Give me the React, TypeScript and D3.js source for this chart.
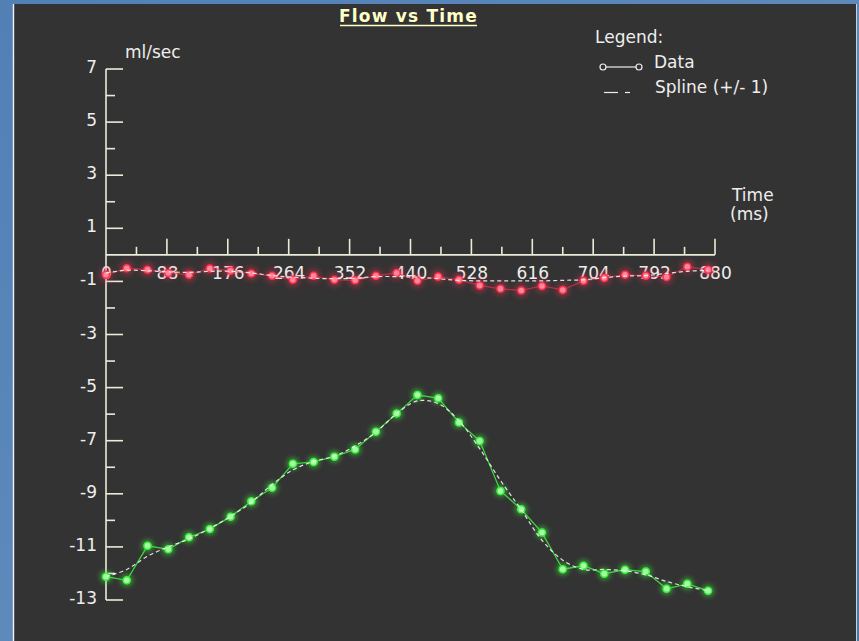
import React from "react";
import * as d3 from "d3";

const timeMs = [0, 30, 60, 90, 120, 150, 180, 210, 240, 270, 300, 330, 360, 390, 420, 450, 480, 510, 540, 570, 600, 630, 660, 690, 720, 750, 780, 810, 840, 870];

const greenData = [-12.12, -12.26, -10.96, -11.09, -10.64, -10.33, -9.86, -9.28, -8.77, -7.87, -7.8, -7.6, -7.33, -6.66, -5.98, -5.28, -5.4, -6.31, -7.01, -8.89, -9.58, -10.46, -11.84, -11.71, -12.01, -11.86, -11.93, -12.58, -12.39, -12.65];
const greenSpline = [-12.12, -11.85, -11.35, -11.0, -10.7, -10.3, -9.85, -9.32, -8.65, -8.1, -7.78, -7.58, -7.2, -6.68, -5.98, -5.5, -5.6, -6.25, -7.3, -8.5, -9.6, -10.75, -11.5, -11.85, -11.85, -11.9, -12.05, -12.3, -12.5, -12.65];

const redData = [-0.75, -0.5, -0.56, -0.68, -0.75, -0.51, -0.6, -0.7, -0.79, -0.94, -0.79, -0.94, -0.96, -0.79, -0.68, -0.98, -0.82, -0.94, -1.15, -1.28, -1.34, -1.17, -1.32, -0.98, -0.87, -0.75, -0.79, -0.83, -0.45, -0.56];
const redSpline = [-0.68, -0.58, -0.6, -0.64, -0.66, -0.62, -0.62, -0.68, -0.78, -0.84, -0.88, -0.9, -0.88, -0.82, -0.82, -0.84, -0.9, -0.96, -0.98, -0.98, -0.98, -0.98, -0.96, -0.94, -0.86, -0.8, -0.78, -0.7, -0.62, -0.58];

const yMajorTicks = [7, 5, 3, 1, -1, -3, -5, -7, -9, -11, -13];
const yMinorTicks = [6, 4, 2, -2, -4, -6, -8, -10, -12];
const xMajorTicks = [0, 88, 176, 264, 352, 440, 528, 616, 704, 792, 880];
const xMinorTicks = [44, 132, 220, 308, 396, 484, 572, 660, 748, 836];

const W = 859;
const H = 641;
const FONT = "'DejaVu Sans', sans-serif";
const AXIS = "#ecebd8";
const TEXT = "#eeeeee";

export default function App() {
  const x = d3.scaleLinear().domain([0, 880]).range([106, 715]);
  const y = d3.scaleLinear().domain([-13, 7]).range([600, 69]);

  const dataLine = d3
    .line<number>()
    .x((_, i) => x(timeMs[i]))
    .y((d) => y(d));
  const splineLine = d3
    .line<number>()
    .x((_, i) => x(timeMs[i]))
    .y((d) => y(d))
    .curve(d3.curveCatmullRom.alpha(0.5));

  const series = [
    { data: greenData, spline: greenSpline, color: "#3cf03c", fill: "#aaffaa", glow: "url(#glowG)", lineOp: 0.85 },
    { data: redData, spline: redSpline, color: "#ff3050", fill: "#ff8899", glow: "url(#glowR)", lineOp: 0.6 },
  ];

  return (
    <svg
      width={W}
      height={H}
      style={{ position: "absolute", left: 0, top: 0, display: "block" }}
      fontFamily={FONT}
    >
      <defs>
        <filter id="glowG" x="-100%" y="-100%" width="300%" height="300%">
          <feGaussianBlur stdDeviation="2.5" />
        </filter>
        <filter id="glowR" x="-100%" y="-100%" width="300%" height="300%">
          <feGaussianBlur stdDeviation="3" />
        </filter>
        <linearGradient id="bg" x1="0" y1="0" x2="1" y2="1">
          <stop offset="0" stopColor="#5280b5" />
          <stop offset="0.5" stopColor="#5d89bb" />
          <stop offset="1" stopColor="#4c78aa" />
        </linearGradient>
      </defs>
      <rect x={0} y={0} width={W} height={H} fill="url(#bg)" />
      <rect x={14} y={4} width={843} height={H - 4} fill="#333333" />
      <line x1={13.5} y1={4} x2={13.5} y2={H} stroke="#f0f4f8" strokeWidth={1.4} />
      <line x1={856.5} y1={4} x2={856.5} y2={H} stroke="#c8d2dc" strokeWidth={1} />

      {/* Title */}
      <text x={408.5} y={22} textAnchor="middle" fill="#ffffc8" fontWeight="bold" fontSize={17} letterSpacing={1.2}>
        Flow vs Time
      </text>
      <line x1={340} y1={25.5} x2={477} y2={25.5} stroke="#ffffc8" strokeWidth={1.5} />

      {/* Legend */}
      <text x={595} y={43} fill={TEXT} fontSize={17}>Legend:</text>
      <line x1={606} y1={67} x2={636} y2={67} stroke={TEXT} strokeWidth={1.2} />
      <circle cx={603} cy={67} r={3} fill="none" stroke={TEXT} strokeWidth={1.2} />
      <circle cx={639} cy={67} r={3} fill="none" stroke={TEXT} strokeWidth={1.2} />
      <text x={654} y={68} fill={TEXT} fontSize={17}>Data</text>
      <line x1={604} y1={92.5} x2={618} y2={92.5} stroke={TEXT} strokeWidth={1.2} />
      <line x1={625} y1={92.5} x2={630} y2={92.5} stroke={TEXT} strokeWidth={1.2} />
      <text x={655} y={93} fill={TEXT} fontSize={17}>Spline (+/- 1)</text>

      {/* Axis titles */}
      <text x={125} y={58} fill={TEXT} fontSize={17}>ml/sec</text>
      <text x={732} y={201} fill={TEXT} fontSize={17}>Time</text>
      <text x={730} y={220} fill={TEXT} fontSize={17}>(ms)</text>

      {/* Y axis */}
      <line x1={x(0)} y1={y(7)} x2={x(0)} y2={y(-13)} stroke={AXIS} strokeWidth={1.6} />
      {yMajorTicks.map((t) => (
        <g key={"ym" + t}>
          <line x1={x(0)} x2={x(0) + 17} y1={y(t)} y2={y(t)} stroke={AXIS} strokeWidth={1.6} />
          <text x={97} y={y(t) + 4} textAnchor="end" fill={TEXT} fontSize={17}>
            {t}
          </text>
        </g>
      ))}
      {yMinorTicks.map((t) => (
        <line key={"yn" + t} x1={x(0)} x2={x(0) + 9} y1={y(t)} y2={y(t)} stroke={AXIS} strokeWidth={1.6} />
      ))}

      {/* X axis */}
      <line x1={x(0)} y1={y(0)} x2={x(880)} y2={y(0)} stroke={AXIS} strokeWidth={1.6} />
      {xMajorTicks.map((t) => (
        <g key={"xm" + t}>
          {t > 0 && <line x1={x(t)} x2={x(t)} y1={y(0)} y2={y(0) - 16} stroke={AXIS} strokeWidth={1.6} />}
          <text x={x(t) + 0.5} y={279} textAnchor="middle" fill={TEXT} fontSize={17}>
            {t}
          </text>
        </g>
      ))}
      {xMinorTicks.map((t) => (
        <line key={"xn" + t} x1={x(t)} x2={x(t)} y1={y(0)} y2={y(0) - 8} stroke={AXIS} strokeWidth={1.6} />
      ))}

      {/* Series */}
      {series.map((s, si) => (
        <g key={"s" + si}>
          <g filter={s.glow} opacity={0.55}>
            {s.data.map((v, i) => (
              <circle key={i} cx={x(timeMs[i])} cy={y(v)} r={6} fill={s.color} />
            ))}
          </g>
          <path d={dataLine(s.data) || ""} fill="none" stroke={s.color} strokeWidth={1.3} opacity={s.lineOp} />
          {s.data.map((v, i) => (
            <circle key={i} cx={x(timeMs[i])} cy={y(v)} r={3.5} fill={s.fill} stroke={s.color} strokeWidth={1.5} />
          ))}
          <path
            d={splineLine(s.spline) || ""}
            fill="none"
            stroke="#f4f4f4"
            strokeWidth={1.2}
            strokeDasharray="4,3"
            opacity={0.9}
          />
        </g>
      ))}
    </svg>
  );
}
